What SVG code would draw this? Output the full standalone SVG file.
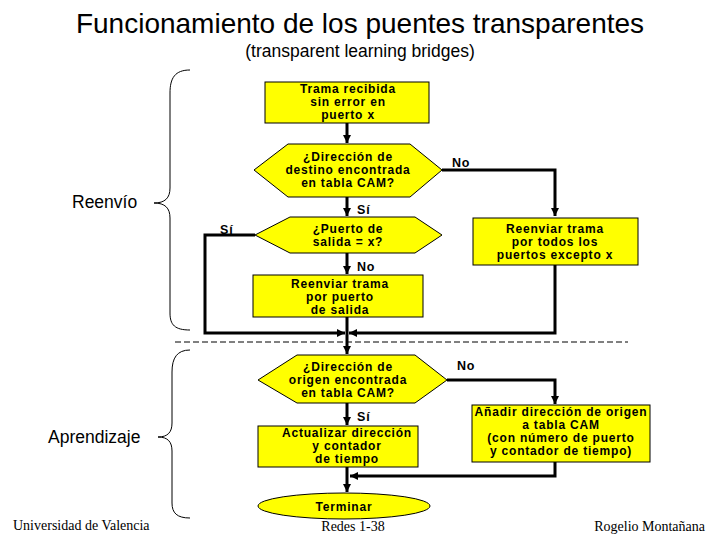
<svg xmlns="http://www.w3.org/2000/svg" width="720" height="540" viewBox="0 0 720 540">
<style>
.node{fill:#FFFF00;stroke:#000;stroke-width:1}
.t{font-family:"Liberation Sans",Arial,sans-serif;font-weight:bold;font-size:12px;letter-spacing:0.8px;fill:#000;text-anchor:middle}
.lbl{font-family:"Liberation Sans",Arial,sans-serif;font-weight:bold;font-size:12.5px;letter-spacing:0.8px;fill:#000}
.c{fill:none;stroke:#000;stroke-width:3}
.br{fill:none;stroke:#000;stroke-width:1}
.side{font-family:"Liberation Sans",Arial,sans-serif;font-size:17.5px;fill:#000}
.foot{font-family:"Liberation Serif","Times New Roman",serif;font-size:14px;fill:#000}
</style>
<defs>
<marker id="ah" viewBox="0 0 8 8" refX="8" refY="4" markerWidth="8" markerHeight="8" orient="auto" markerUnits="userSpaceOnUse">
<path d="M0,0 L8,4 L0,8 z" fill="#000"/>
</marker>
</defs>
<rect width="720" height="540" fill="#fff"/>
<text x="360" y="33" text-anchor="middle" font-family="'Liberation Sans',Arial,sans-serif" font-size="28px">Funcionamiento de los puentes transparentes</text>
<text x="360" y="57" text-anchor="middle" font-family="'Liberation Sans',Arial,sans-serif" font-size="17.5px">(transparent learning bridges)</text>

<g id="connectors">
<line class="c" x1="347" y1="123" x2="347" y2="143" marker-end="url(#ah)"/>
<line class="c" x1="347" y1="197" x2="347" y2="216" marker-end="url(#ah)"/>
<polyline class="c" points="442,170 555,170 555,216" marker-end="url(#ah)"/>
<line class="c" x1="347" y1="253" x2="347" y2="274" marker-end="url(#ah)"/>
<polyline class="c" points="255,235 205,235 205,333 345,333" marker-end="url(#ah)"/>
<polyline class="c" points="555,265 555,333 349,333" marker-end="url(#ah)"/>
<line class="c" x1="347" y1="317" x2="347" y2="354" marker-end="url(#ah)"/>
<line class="c" x1="347" y1="403" x2="347" y2="425" marker-end="url(#ah)"/>
<polyline class="c" points="447,380 555,380 555,404" marker-end="url(#ah)"/>
<polyline class="c" points="555,462 555,476 350,476" marker-end="url(#ah)"/>
<line class="c" x1="347" y1="467" x2="347" y2="492" marker-end="url(#ah)"/>
<line x1="175" y1="342" x2="628" y2="342" stroke="#000" stroke-width="1" stroke-dasharray="6,3"/>
<text class="lbl" x="452" y="167">No</text>
<text class="lbl" x="357" y="214">Sí</text>
<text class="lbl" x="220" y="234">Sí</text>
<text class="lbl" x="357" y="271">No</text>
<text class="lbl" x="457" y="370">No</text>
<text class="lbl" x="357" y="421">Sí</text>
</g>

<g id="trama-recibida">
<rect class="node" x="265" y="82" width="164" height="41"/>
<text class="t" x="348" y="93">Trama recibida</text>
<text class="t" x="348" y="106">sin error en</text>
<text class="t" x="348" y="119">puerto x</text>
</g>

<g id="dir-destino">
<polygon class="node" points="254,170 288,144 410,144 442,170 410,197 288,197"/>
<text class="t" x="348" y="161">¿Dirección de</text>
<text class="t" x="348" y="174">destino encontrada</text>
<text class="t" x="348" y="187">en tabla CAM?</text>
</g>

<g id="reenviar-todos">
<rect class="node" x="473" y="218" width="165" height="47"/>
<text class="t" x="555" y="233">Reenviar trama</text>
<text class="t" x="555" y="246">por todos los</text>
<text class="t" x="555" y="259">puertos excepto x</text>
</g>

<g id="puerto-salida">
<polygon class="node" points="255,235 290,217 415,217 442,235 415,253 290,253"/>
<text class="t" x="348" y="233">¿Puerto de</text>
<text class="t" x="348" y="246">salida = x?</text>
</g>

<g id="reenviar-puerto">
<rect class="node" x="253" y="275" width="170" height="42"/>
<text class="t" x="340" y="288">Reenviar trama</text>
<text class="t" x="340" y="301">por puerto</text>
<text class="t" x="340" y="314">de salida</text>
</g>

<g id="dir-origen">
<polygon class="node" points="258,380 297,355 415,355 447,380 415,403 297,403"/>
<text class="t" x="348" y="371">¿Dirección de</text>
<text class="t" x="348" y="384">origen encontrada</text>
<text class="t" x="348" y="397">en tabla CAM?</text>
</g>

<g id="actualizar">
<rect class="node" x="258" y="426" width="160" height="41"/>
<text class="t" x="347" y="437">Actualizar dirección</text>
<text class="t" x="347" y="450">y contador</text>
<text class="t" x="347" y="463">de tiempo</text>
</g>

<g id="anadir">
<rect class="node" x="472" y="405" width="178" height="57"/>
<text class="t" x="561" y="416">Añadir dirección de origen</text>
<text class="t" x="561" y="429">a tabla CAM</text>
<text class="t" x="561" y="442">(con número de puerto</text>
<text class="t" x="561" y="455">y contador de tiempo)</text>
</g>

<g id="terminar">
<ellipse class="node" cx="344" cy="506" rx="86" ry="13"/>
<text class="t" x="344" y="511">Terminar</text>
</g>

<g id="reenvio-brace">
<path class="br" d="M190,70 C175,70 170,78 170,93 L170,188 C170,198 165,203 154,203 C165,203 170,208 170,218 L170,313 C170,325 175,330 190,330"/>
<text class="side" x="72" y="208">Reenvío</text>
</g>

<g id="aprendizaje-brace">
<path class="br" d="M190,350 C177,350 172,358 172,372 L172,423 C172,432 168,437 158,437 C168,437 172,442 172,451 L172,503 C172,513 177,518 190,518"/>
<text class="side" x="48" y="443">Aprendizaje</text>
</g>

<g id="footer">
<text class="foot" x="13" y="530">Universidad de Valencia</text>
<text class="foot" x="353" y="531" text-anchor="middle">Redes 1-38</text>
<text class="foot" x="705" y="531" text-anchor="end">Rogelio Montañana</text>
</g>
</svg>
